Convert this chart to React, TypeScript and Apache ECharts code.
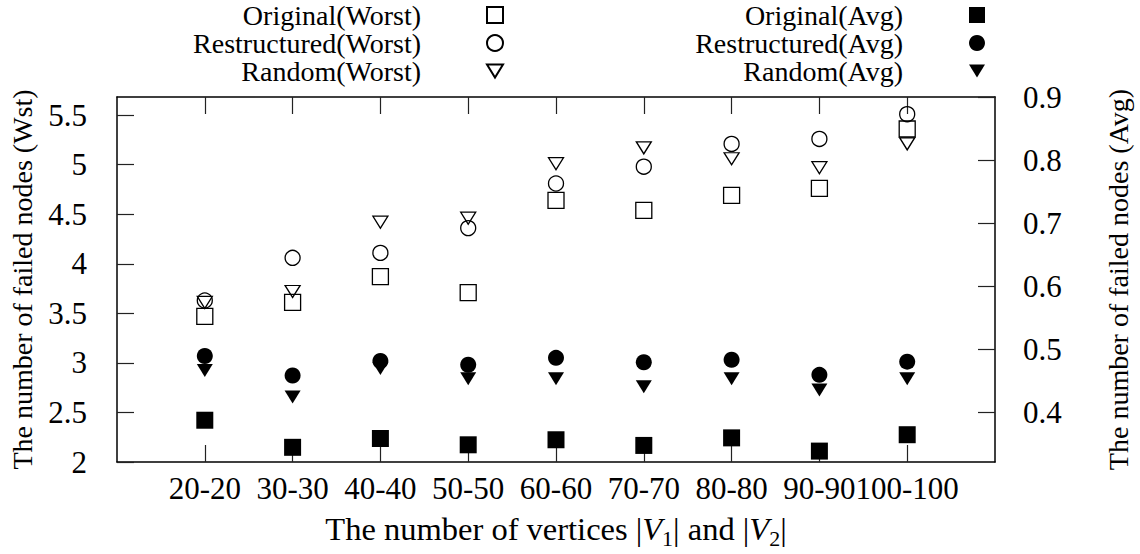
import React, { useEffect, useRef } from 'react';
import * as echarts from 'echarts';

const categories = ['20-20', '30-30', '40-40', '50-50', '60-60', '70-70', '80-80', '90-90', '100-100'];
const xAxisData = ['', ...categories, ' '];

const origWorst = [3.47, 3.61, 3.87, 3.71, 4.64, 4.54, 4.69, 4.76, 5.36];
const restWorst = [3.63, 4.06, 4.11, 4.36, 4.81, 4.98, 5.21, 5.26, 5.51];
const randWorst = [3.61, 3.72, 4.42, 4.46, 5.01, 5.17, 5.06, 4.97, 5.21];

const origAvg = [0.387, 0.344, 0.358, 0.348, 0.356, 0.347, 0.359, 0.338, 0.364];
const restAvg = [0.489, 0.458, 0.481, 0.475, 0.486, 0.479, 0.483, 0.459, 0.48];
const randAvg = [0.466, 0.424, 0.469, 0.453, 0.453, 0.44, 0.453, 0.435, 0.453];

const leftTicks = [2, 2.5, 3, 3.5, 4, 4.5, 5, 5.5];
const rightTicks = [0.4, 0.5, 0.6, 0.7, 0.8, 0.9];

const FONT = 'Liberation Serif';
const DOWN_TRI = 'path://M0,0L16,0L8,13Z';

export default function App() {
  const ref = useRef<HTMLDivElement>(null);
  useEffect(() => {
    const chart = echarts.init(ref.current!, null, { renderer: 'svg' });
    const pair = (arr: number[]) => categories.map((c, i) => [c, arr[i]]);
    const openStyle = { color: 'transparent', borderColor: '#000', borderWidth: 1.3, opacity: 1 };
    const fillStyle = { color: '#000', borderColor: '#000', borderWidth: 0, opacity: 1 };
    const tickInterval = (i: number) => i > 0 && i < xAxisData.length - 1;
    const serif = (size: number, extra: any = {}) => ({ fontFamily: FONT, fontSize: size, color: '#000', ...extra });
    const legendBase = {
      orient: 'vertical',
      align: 'right',
      top: 1,
      padding: 0,
      itemWidth: 16,
      itemHeight: 16,
      itemGap: 0,
      selectedMode: false,
      textStyle: { fontFamily: FONT, fontSize: 28, color: '#000', padding: [0, 61, 0, 0] },
    };
    const tickLabel = (margin: number, fmt: (v: number) => string, extra: any = {}) => ({
      show: true,
      margin,
      fontFamily: FONT,
      fontSize: 31,
      color: '#000',
      formatter: (v: any) => fmt(v),
      ...extra,
    });
    const option = {
      animation: false,
      backgroundColor: '#fff',
      textStyle: { fontFamily: FONT },
      grid: { left: 117, right: 143, top: 97, bottom: 92, containLabel: false },
      legend: [
        {
          ...legendBase,
          right: 636,
          data: [
            { name: 'Original(Worst)' },
            { name: 'Restructured(Worst)' },
            { name: 'Random(Worst)', icon: DOWN_TRI },
          ],
        },
        {
          ...legendBase,
          right: 155,
          data: [
            { name: 'Original(Avg)' },
            { name: 'Restructured(Avg)' },
            { name: 'Random(Avg)', icon: DOWN_TRI },
          ],
        },
      ],
      xAxis: [
        {
          type: 'category',
          data: xAxisData,
          boundaryGap: false,
          position: 'bottom',
          name: '{t|The number of vertices |}{i|V}{s|1}{t|| and |}{i|V}{s|2}{t||}',
          nameLocation: 'middle',
          nameGap: 50,
          nameTextStyle: {
            fontFamily: FONT,
            fontSize: 32.5,
            color: '#000',
            rich: {
              t: serif(32.5),
              i: serif(32.5, { fontStyle: 'italic' }),
              s: serif(22, { verticalAlign: 'bottom', padding: [0, 0, -4, 0] }),
            },
          },
          axisLine: { show: true, lineStyle: { color: '#000', width: 1.5 } },
          axisTick: { show: true, inside: true, length: 17, interval: tickInterval, lineStyle: { color: '#222', width: 1.2 } },
          axisLabel: tickLabel(11, (v) => String(v), { interval: 0 }),
          splitLine: { show: false },
        },
        {
          type: 'category',
          data: xAxisData,
          boundaryGap: false,
          position: 'top',
          axisLine: { show: true, lineStyle: { color: '#000', width: 1.5 } },
          axisTick: { show: true, inside: true, length: 17, interval: tickInterval, lineStyle: { color: '#222', width: 1.2 } },
          axisLabel: { show: false },
          splitLine: { show: false },
        },
      ],
      yAxis: [
        {
          type: 'value',
          position: 'left',
          min: 2,
          max: 5.683,
          name: 'The number of failed nodes (Wst)',
          nameLocation: 'middle',
          nameRotate: 90,
          nameGap: 81,
          nameTextStyle: { fontFamily: FONT, fontSize: 28, color: '#000' },
          axisLine: { show: true, lineStyle: { color: '#000', width: 1.5 } },
          axisTick: { show: true, inside: true, length: 17, customValues: leftTicks, lineStyle: { color: '#222', width: 1.2 } },
          axisLabel: tickLabel(30, (v) => String(+Number(v).toFixed(1)), { customValues: leftTicks }),
          splitLine: { show: false },
        },
        {
          type: 'value',
          position: 'right',
          min: 0.3207,
          max: 0.9,
          name: 'The number of failed nodes (Avg)',
          nameLocation: 'middle',
          nameRotate: 90,
          nameGap: 109,
          nameTextStyle: { fontFamily: FONT, fontSize: 28, color: '#000' },
          axisLine: { show: true, lineStyle: { color: '#000', width: 1.5 } },
          axisTick: { show: true, inside: true, length: 17, customValues: rightTicks, lineStyle: { color: '#222', width: 1.2 } },
          axisLabel: tickLabel(28, (v) => Number(v).toFixed(1), { customValues: rightTicks }),
          splitLine: { show: false },
        },
      ],
      series: [
        { name: 'Original(Worst)', type: 'scatter', yAxisIndex: 0, symbol: 'rect', symbolSize: 16, itemStyle: openStyle, data: pair(origWorst) },
        { name: 'Restructured(Worst)', type: 'scatter', yAxisIndex: 0, symbol: 'circle', symbolSize: 15, itemStyle: openStyle, data: pair(restWorst) },
        { name: 'Random(Worst)', type: 'scatter', yAxisIndex: 0, symbol: DOWN_TRI, symbolSize: [15, 12], itemStyle: openStyle, data: pair(randWorst) },
        { name: 'Original(Avg)', type: 'scatter', yAxisIndex: 1, symbol: 'rect', symbolSize: 17, itemStyle: fillStyle, data: pair(origAvg) },
        { name: 'Restructured(Avg)', type: 'scatter', yAxisIndex: 1, symbol: 'circle', symbolSize: 16, itemStyle: fillStyle, data: pair(restAvg) },
        { name: 'Random(Avg)', type: 'scatter', yAxisIndex: 1, symbol: DOWN_TRI, symbolSize: [16, 13], itemStyle: fillStyle, data: pair(randAvg) },
      ],
    };
    chart.setOption(option as any);
    return () => chart.dispose();
  }, []);
  return (
    <div
      ref={ref}
      style={{ position: 'fixed', left: 0, top: 0, width: 1140, height: 554, background: '#fff' }}
    />
  );
}
